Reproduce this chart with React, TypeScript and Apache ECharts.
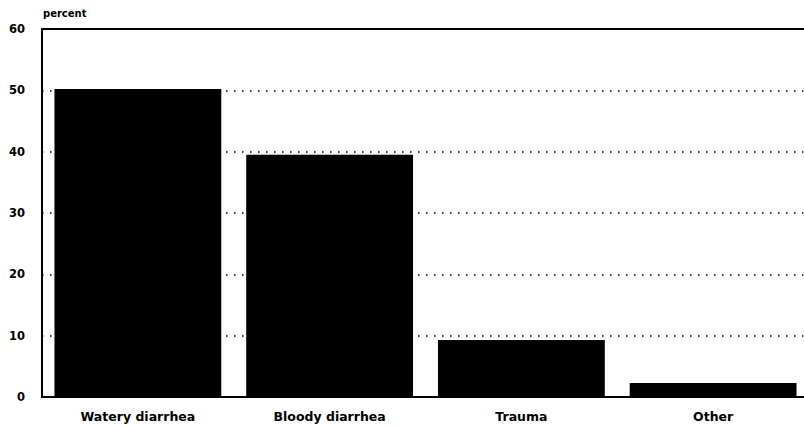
import React, { useEffect, useRef } from "react";
import * as echarts from "echarts";

const categories = ["Watery diarrhea", "Bloody diarrhea", "Trauma", "Other"];
const values = [50.2, 39.5, 9.3, 2.3];
const yTicks = [0, 10, 20, 30, 40, 50, 60];
const yAxisTitle = "percent";

export default function App() {
  const ref = useRef<HTMLDivElement>(null);
  useEffect(() => {
    if (!ref.current) return;
    const chart = echarts.init(ref.current, null, { renderer: "svg" });
    const font = "'DejaVu Sans', 'Liberation Sans', Arial, sans-serif";
    chart.setOption({
      animation: false,
      backgroundColor: "#ffffff",
      grid: {
        left: 42,
        right: 3,
        top: 29,
        bottom: 30,
        show: true,
        borderColor: "#000",
        borderWidth: 2,
        backgroundColor: "transparent",
      },
      graphic: [
        {
          type: "text",
          left: 43,
          top: 8,
          style: {
            text: yAxisTitle,
            font: `bold 10px ${font}`,
            fill: "#000",
          },
        },
      ],
      xAxis: {
        type: "category",
        data: categories,
        axisLine: { show: true, lineStyle: { color: "#000", width: 2 } },
        axisTick: { show: false },
        axisLabel: {
          color: "#000",
          fontFamily: font,
          fontWeight: "bold",
          fontSize: 12.5,
          margin: 13,
        },
      },
      yAxis: {
        type: "value",
        min: yTicks[0],
        max: yTicks[yTicks.length - 1],
        interval: 10,
        axisLine: { show: true, lineStyle: { color: "#000", width: 2 } },
        axisTick: { show: false },
        axisLabel: {
          color: "#000",
          fontFamily: font,
          fontWeight: "bold",
          fontSize: 11.5,
          margin: 17,
        },
        splitLine: {
          show: true,
          lineStyle: { color: "#000", width: 1.5, type: [1.5, 6.5] },
        },
      },
      series: [
        {
          type: "bar",
          data: values,
          barCategoryGap: "13%",
          itemStyle: { color: "#000" },
        },
      ],
    });
    return () => chart.dispose();
  }, []);
  return (
    <div style={{ position: "fixed", left: 0, top: 0, width: 804, height: 427, overflow: "hidden" }}>
      <div ref={ref} style={{ width: 812, height: 427 }} />
    </div>
  );
}
